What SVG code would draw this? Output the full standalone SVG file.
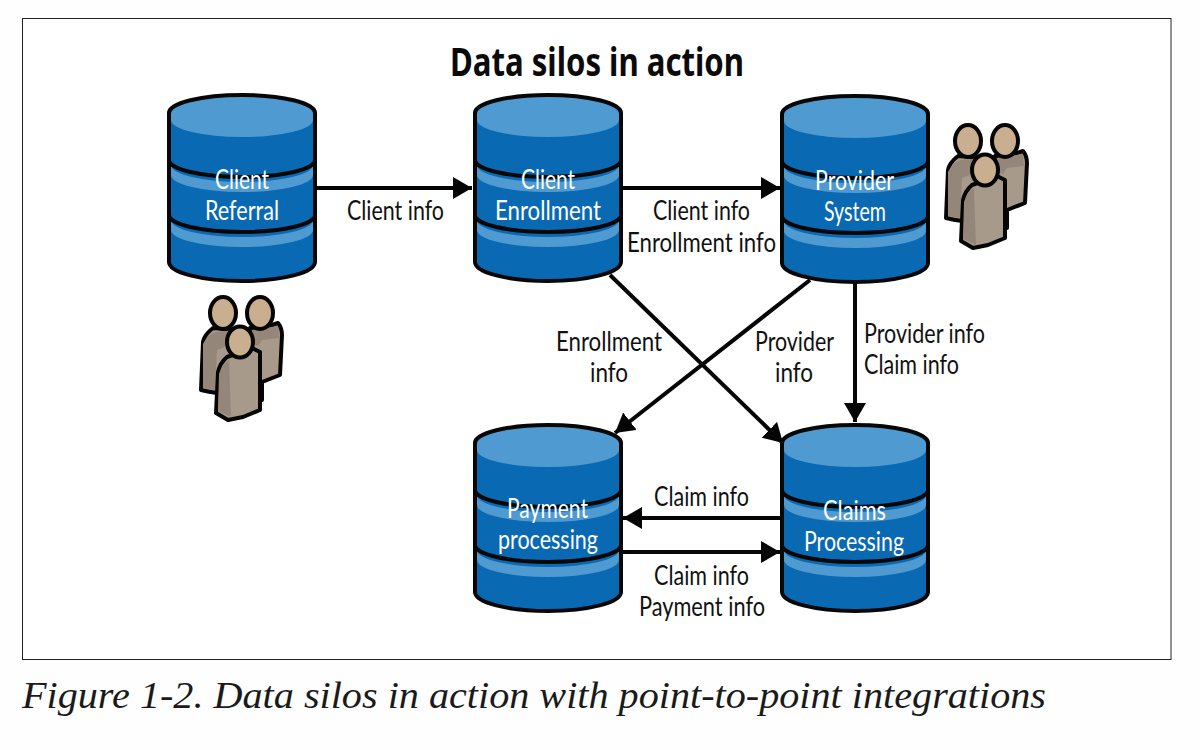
<svg xmlns="http://www.w3.org/2000/svg" width="1200" height="750" viewBox="0 0 1200 750">
<style>
.lbl{font-family:Lato,"Noto Sans",sans-serif;font-size:26px;fill:#111}
.nl{font-family:Lato,"Noto Sans",sans-serif;font-size:26px;fill:#fff}
.ttl{font-family:"Noto Sans","Open Sans",sans-serif;font-size:39px;font-weight:700;fill:#0a0a0a}
.cap{font-family:"Liberation Serif",serif;font-style:italic;font-size:38px;fill:#1a1a1a}
.conn{stroke:#050505;stroke-width:4;fill:none;marker-end:url(#ah)}
.o{fill:none;stroke:#070707;stroke-width:4;stroke-linejoin:round;stroke-linecap:round}
.body{fill:#0a69b3}
.hi{fill:#4f9bd1}
.pb{fill:#a89a8b;stroke:#050505;stroke-width:4;stroke-linejoin:round}
.ps{fill:#94877a}
.ph{fill:#c9ae90;stroke:#050505;stroke-width:4}
</style>
<defs>
<marker id="ah" markerUnits="userSpaceOnUse" markerWidth="22" markerHeight="24" refX="19" refY="11" orient="auto">
<path d="M0,0L19,11L0,22Z" fill="#050505"/>
</marker>
<g id="cyl">
<path class="body" d="M-73,20A73,20 0 0 1 73,20V167A73,19 0 0 1 -73,167Z"/>
<path class="hi" d="M-71,25A71,17 0 0 0 71,25V19A71,18 0 0 0 -71,19Z"/>
<path class="hi" d="M-71,70A71,17 0 0 0 71,70V80A71,17 0 0 1 -71,80Z"/>
<path class="hi" d="M-71,125A71,17 0 0 0 71,125V135A71,17 0 0 1 -71,135Z"/>
<path class="o" d="M-73,167V18A73,18 0 0 1 73,18V167A73,19 0 0 1 -73,167Z"/>
<path class="o" d="M-73,65A73,17 0 0 0 73,65"/>
<path class="o" d="M-73,120A73,17 0 0 0 73,120"/>
</g>
<g id="people">
<path class="pb" d="M213,328Q204,335 203,342L201,390Q209,392 217,393L240,392V330Z"/>
<path class="ps" d="M203,344Q208,334 216,332L236,330L238,342L217,350L215,390L203,388Z"/>
<ellipse class="ph" cx="223" cy="313" rx="13" ry="16"/>
<path class="pb" d="M250,328L266,327L278,323Q282,328 282,335L280,375L262,382L262,400L245,398Z"/>
<path class="ps" d="M252,330L278,326L279,338L262,340L258,346L252,344Z"/>
<ellipse class="ph" cx="260" cy="313" rx="13" ry="16"/>
<path class="pb" d="M227,357Q220,363 218,372L216,413L228,420L243,417L260,410L260,352L252,348Z"/>
<path class="ps" d="M219,374Q222,364 229,360L231,417L218,411Z"/>
<ellipse class="ph" cx="240" cy="342" rx="13" ry="15.500"/>
</g>
</defs>
<rect width="1200" height="750" fill="#fefefe"/>
<rect x="22.500" y="18.500" width="1148.500" height="641" fill="#fff" stroke="#222" stroke-width="1"/>
<text class="ttl" x="450" y="76" textLength="294" lengthAdjust="spacingAndGlyphs">Data silos in action</text>

<g id="client-referral"><use href="#cyl" x="242" y="95"/>
<text class="nl" x="215" y="189" textLength="54" lengthAdjust="spacingAndGlyphs">Client</text>
<text class="nl" x="205" y="220" textLength="74" lengthAdjust="spacingAndGlyphs">Referral</text></g>
<g id="client-enrollment"><use href="#cyl" x="548" y="95"/>
<text class="nl" x="521" y="189" textLength="54" lengthAdjust="spacingAndGlyphs">Client</text>
<text class="nl" x="495" y="220" textLength="106" lengthAdjust="spacingAndGlyphs">Enrollment</text></g>
<g id="provider-system"><use href="#cyl" x="855" y="96"/>
<text class="nl" x="815" y="190" textLength="79" lengthAdjust="spacingAndGlyphs">Provider</text>
<text class="nl" x="824" y="221" textLength="62" lengthAdjust="spacingAndGlyphs">System</text></g>
<g id="payment-processing"><use href="#cyl" x="548" y="425"/>
<text class="nl" x="507" y="518" textLength="81" lengthAdjust="spacingAndGlyphs">Payment</text>
<text class="nl" x="498" y="549" textLength="100" lengthAdjust="spacingAndGlyphs">processing</text></g>
<g id="claims-processing"><use href="#cyl" x="855" y="425"/>
<text class="nl" x="823" y="520" textLength="63" lengthAdjust="spacingAndGlyphs">Claims</text>
<text class="nl" x="804" y="551" textLength="100" lengthAdjust="spacingAndGlyphs">Processing</text></g>
<g id="people-left"><use href="#people"/></g>
<g id="people-right"><use href="#people" x="745" y="-172"/></g>

<g id="connectors">
<path class="conn" d="M316,188H472"/>
<path class="conn" d="M622,188H780"/>
<path class="conn" d="M610,275L783,443"/>
<path class="conn" d="M810,280L615,433"/>
<path class="conn" d="M855,282V422"/>
<path class="conn" d="M780,518H623"/>
<path class="conn" d="M622,552H780"/>
</g>

<g id="labels">
<text class="lbl" x="347" y="220" textLength="97" lengthAdjust="spacingAndGlyphs">Client info</text>
<text class="lbl" x="653" y="220" textLength="97" lengthAdjust="spacingAndGlyphs">Client info</text>
<text class="lbl" x="627" y="252" textLength="149" lengthAdjust="spacingAndGlyphs">Enrollment info</text>
<text class="lbl" x="556" y="351" textLength="106" lengthAdjust="spacingAndGlyphs">Enrollment</text>
<text class="lbl" x="590" y="382" textLength="38" lengthAdjust="spacingAndGlyphs">info</text>
<text class="lbl" x="755" y="351" textLength="79" lengthAdjust="spacingAndGlyphs">Provider</text>
<text class="lbl" x="775" y="382" textLength="38" lengthAdjust="spacingAndGlyphs">info</text>
<text class="lbl" x="864" y="343" textLength="121" lengthAdjust="spacingAndGlyphs">Provider info</text>
<text class="lbl" x="864" y="374" textLength="95" lengthAdjust="spacingAndGlyphs">Claim info</text>
<text class="lbl" x="654" y="506" textLength="95" lengthAdjust="spacingAndGlyphs">Claim info</text>
<text class="lbl" x="654" y="585" textLength="95" lengthAdjust="spacingAndGlyphs">Claim info</text>
<text class="lbl" x="639" y="616" textLength="126" lengthAdjust="spacingAndGlyphs">Payment info</text>
</g>
<text class="cap" x="22" y="708" textLength="1024" lengthAdjust="spacingAndGlyphs">Figure 1-2. Data silos in action with point-to-point integrations</text>
</svg>
